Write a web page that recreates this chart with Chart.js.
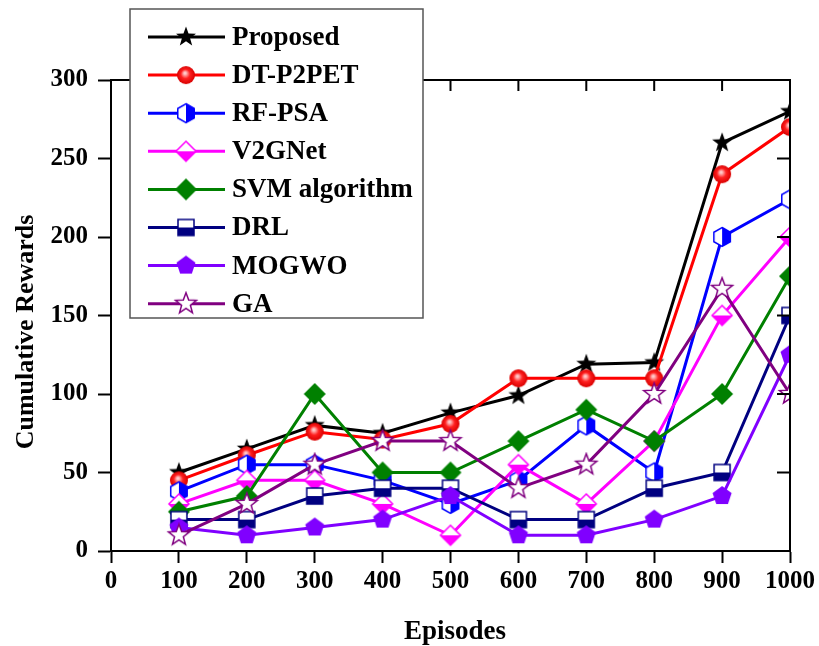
<!DOCTYPE html>
<html lang="en">
  <head>
    <meta charset="UTF-8" />
    <title>Cumulative Rewards</title>
    <script src="https://cdn.jsdelivr.net/npm/chart.js@4"></script>
    <style>
      body {
        margin: 0;
        background: #fff;
      }
      .chart-box {
        width: 819px;
        height: 646px;
      }
    </style>
  </head>
  <body>
    <div class="chart-box">
      <canvas id="myChart"></canvas>
    </div>
    <script>
      const episodes = [100, 200, 300, 400, 500, 600, 700, 800, 900, 1000];
      const labels = ["Proposed", "DT-P2PET", "RF-PSA", "V2GNet", "SVM algorithm", "DRL", "MOGWO", "GA"];
      const proposed = [50, 65, 80, 75, 88, 99, 119, 120, 260, 280];
      const dtP2pet = [45, 61, 76, 71, 81, 110, 110, 110, 240, 270];
      const rfPsa = [38, 55, 55, 45, 30, 45, 80, 50, 200, 224];
      const v2gNet = [30, 45, 45, 30, 10, 55, 30, 70, 150, 200];
      const svm = [25, 35, 100, 50, 50, 70, 90, 70, 100, 175];
      const drl = [20, 20, 35, 40, 40, 20, 20, 40, 50, 150];
      const mogwo = [15, 10, 15, 20, 35, 10, 10, 20, 35, 125];
      const ga = [10, 30, 55, 70, 70, 40, 55, 100, 167, 100];
      const xTicks = [0, 100, 200, 300, 400, 500, 600, 700, 800, 900, 1000];
      const yTicks = [0, 50, 100, 150, 200, 250, 300];

      const FONT = "'Liberation Serif', 'Times New Roman', serif";

      // little canvases used as point styles (and again in the legend)
      const marker = function (draw) {
        const c = document.createElement("canvas");
        c.width = 26;
        c.height = 26;
        const g = c.getContext("2d");
        g.translate(13, 13);
        g.lineJoin = "miter";
        draw(g);
        return c;
      };
      const polyPath = function (g, pts) {
        g.beginPath();
        pts.forEach(function (p, i) {
          i === 0 ? g.moveTo(p[0], p[1]) : g.lineTo(p[0], p[1]);
        });
        g.closePath();
      };
      const regular = function (n, R, start) {
        const pts = [];
        for (let i = 0; i < n; i++) {
          const a = start + (i * 2 * Math.PI) / n;
          pts.push([R * Math.cos(a), R * Math.sin(a)]);
        }
        return pts;
      };
      const starPts = function (R, r) {
        const pts = [];
        for (let i = 0; i < 10; i++) {
          const a = -Math.PI / 2 + (i * Math.PI) / 5;
          const rr = i % 2 === 0 ? R : r;
          pts.push([rr * Math.cos(a), rr * Math.sin(a)]);
        }
        return pts;
      };
      // shape filled white, with one half painted in the series colour
      const halfFilled = function (g, pts, color, half) {
        polyPath(g, pts);
        g.fillStyle = "#fff";
        g.fill();
        g.save();
        polyPath(g, pts);
        g.clip();
        g.fillStyle = color;
        if (half === "right") g.fillRect(0, -13, 13, 26);
        else g.fillRect(-13, 0, 26, 13);
        g.restore();
        polyPath(g, pts);
        g.strokeStyle = color;
        g.lineWidth = 1.5;
        g.stroke();
      };

      const markers = [
        marker(function (g) {
          polyPath(g, starPts(10.5, 4.3));
          g.fillStyle = "#000";
          g.fill();
        }),
        marker(function (g) {
          const grd = g.createRadialGradient(-1, -2, 1, 0, 0, 9);
          grd.addColorStop(0, "#ffc8c8");
          grd.addColorStop(0.45, "#ff2020");
          grd.addColorStop(1, "#d80000");
          g.beginPath();
          g.arc(0, 0, 9, 0, Math.PI * 2);
          g.fillStyle = grd;
          g.fill();
        }),
        marker(function (g) {
          halfFilled(g, regular(6, 9.5, -Math.PI / 2), "#0000ff", "right");
        }),
        marker(function (g) {
          halfFilled(g, [[0, -10], [10, 0], [0, 10], [-10, 0]], "#ff00ff", "bottom");
        }),
        marker(function (g) {
          polyPath(g, [[0, -11], [11, 0], [0, 11], [-11, 0]]);
          g.fillStyle = "#008000";
          g.fill();
        }),
        marker(function (g) {
          halfFilled(g, [[-8, -8], [8, -8], [8, 8], [-8, 8]], "#000080", "bottom");
        }),
        marker(function (g) {
          polyPath(g, regular(5, 10, -Math.PI / 2));
          g.fillStyle = "#8000ff";
          g.fill();
        }),
        marker(function (g) {
          polyPath(g, starPts(11, 4.6));
          g.fillStyle = "#fff";
          g.fill();
          g.strokeStyle = "#800080";
          g.lineWidth = 1.5;
          g.stroke();
        }),
      ];

      const colors = ["#000000", "#ff0000", "#0000ff", "#ff00ff", "#008000", "#000080", "#8000ff", "#800080"];
      const seriesList = [proposed, dtP2pet, rfPsa, v2gNet, svm, drl, mogwo, ga];

      const datasets = seriesList.map(function (values, i) {
        return {
          label: labels[i],
          data: values.map(function (v, j) {
            return { x: episodes[j], y: v };
          }),
          borderColor: colors[i],
          backgroundColor: colors[i],
          borderWidth: 3,
          pointStyle: markers[i],
          pointRadius: 9,
          pointHoverRadius: 9,
          order: -i,
        };
      });

      // frame on top/right with inward ticks, boxed legend, axis titles
      const framePlugin = {
        id: "frame",
        afterDraw: function (chart) {
          const ctx = chart.ctx;
          const a = chart.chartArea;
          const xs = chart.scales.x;
          const ys = chart.scales.y;
          ctx.save();
          ctx.strokeStyle = "#000";
          ctx.lineWidth = 2;
          ctx.beginPath();
          ctx.moveTo(a.left, a.top);
          ctx.lineTo(a.right, a.top);
          ctx.lineTo(a.right, a.bottom);
          xTicks.forEach(function (t) {
            const px = xs.getPixelForValue(t);
            ctx.moveTo(px, a.top);
            ctx.lineTo(px, a.top + 11);
          });
          yTicks.forEach(function (t) {
            const py = ys.getPixelForValue(t);
            ctx.moveTo(a.right, py);
            ctx.lineTo(a.right - 13, py);
          });
          ctx.stroke();

          // legend
          ctx.fillStyle = "#fff";
          ctx.fillRect(130, 9, 293, 309);
          ctx.strokeStyle = "#555";
          ctx.lineWidth = 1.5;
          ctx.strokeRect(130, 9, 293, 309);
          ctx.font = "bold 27px " + FONT;
          ctx.textAlign = "left";
          ctx.textBaseline = "middle";
          labels.forEach(function (name, i) {
            const y = 37 + i * 38.1;
            ctx.strokeStyle = colors[i];
            ctx.lineWidth = 3;
            ctx.beginPath();
            ctx.moveTo(148, y);
            ctx.lineTo(225, y);
            ctx.stroke();
            ctx.drawImage(markers[i], 186 - 13, y - 13);
            ctx.fillStyle = "#000";
            ctx.fillText(name, 232, y + 1);
          });

          // axis titles
          ctx.fillStyle = "#000";
          ctx.textAlign = "center";
          ctx.textBaseline = "alphabetic";
          ctx.font = "bold 27px " + FONT;
          ctx.fillText("Episodes", 455, 639);
          ctx.translate(33, 332);
          ctx.rotate(-Math.PI / 2);
          ctx.font = "bold 26px " + FONT;
          ctx.fillText("Cumulative Rewards", 0, 0);
          ctx.restore();
        },
      };

      const plain = function (value) {
        return String(value);
      };

      const myChart = new Chart(document.getElementById("myChart"), {
        type: "line",
        data: { datasets: datasets },
        options: {
          responsive: true,
          maintainAspectRatio: false,
          animation: false,
          events: [],
          layout: { padding: { top: 80, right: 26, left: 0, bottom: 0 } },
          plugins: {
            legend: { display: false },
            tooltip: { enabled: false },
          },
          scales: {
            x: {
              type: "linear",
              min: 0,
              max: 1000,
              afterFit: function (scale) {
                scale.height = 95;
              },
              ticks: {
                stepSize: 100,
                padding: 4,
                color: "#000",
                maxRotation: 0,
                callback: plain,
                font: { family: FONT, size: 25, weight: "bold" },
              },
              grid: {
                drawOnChartArea: false,
                tickLength: 12,
                tickWidth: 2,
                tickColor: "#000",
              },
              border: { color: "#000", width: 2 },
            },
            y: {
              min: 0,
              max: 300,
              afterFit: function (scale) {
                scale.width = 111;
              },
              ticks: {
                stepSize: 50,
                padding: 10,
                color: "#000",
                callback: plain,
                font: { family: FONT, size: 25, weight: "bold" },
              },
              grid: {
                drawOnChartArea: false,
                tickLength: 13,
                tickWidth: 2,
                tickColor: "#000",
              },
              border: { color: "#000", width: 2 },
            },
          },
        },
        plugins: [framePlugin],
      });
    </script>
  </body>
</html>
